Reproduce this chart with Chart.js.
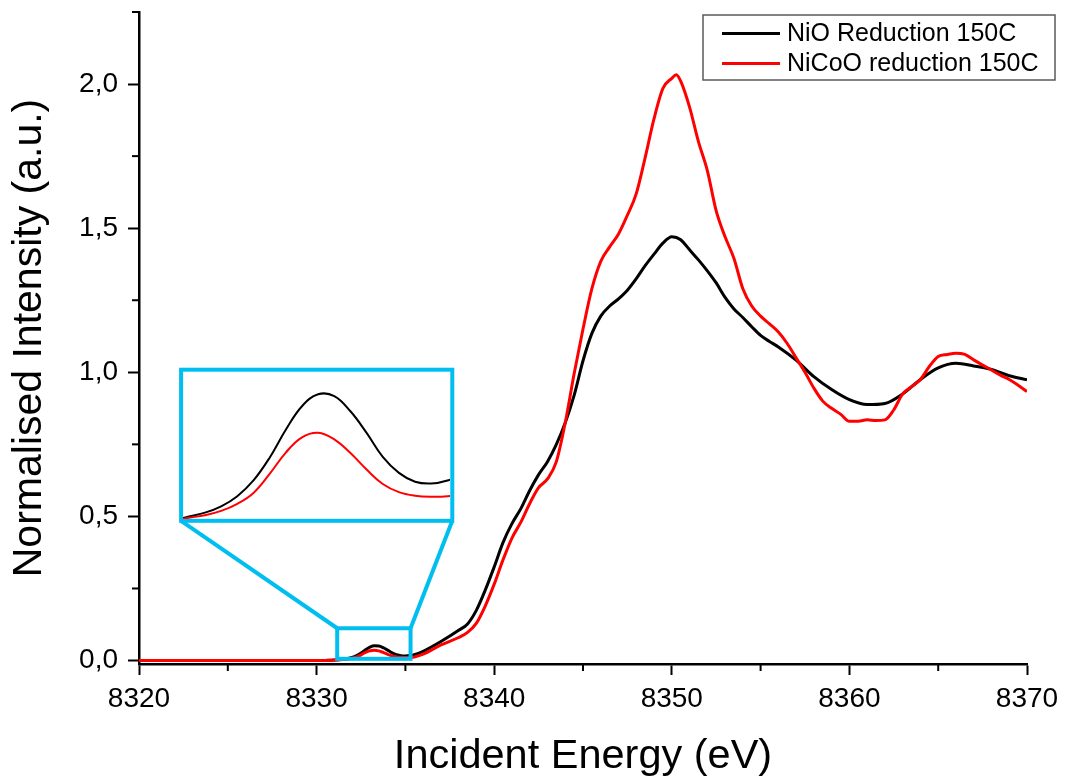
<!DOCTYPE html>
<html><head><meta charset="utf-8">
<script src="https://cdn.jsdelivr.net/npm/chart.js@4/dist/chart.umd.min.js"></script>
<style>
html,body{margin:0;padding:0;background:#fff;}
#wrap{position:relative;width:1068px;height:781px;overflow:hidden;}
#main{position:absolute;left:0;top:0;}
#insetBox{position:absolute;left:0;top:0;}
</style></head><body>
<div id="wrap"><canvas id="main" width="1068" height="781"></canvas><div id="insetBox"><canvas id="inset"></canvas></div></div>
<script>
const nioEnergy = [8320, 8322, 8324, 8326, 8328, 8330, 8330.5,
  8331, 8331.25, 8331.5, 8331.75, 8332, 8332.25, 8332.5, 8332.75, 8333, 8333.25, 8333.5, 8333.75,
  8334, 8334.25, 8334.5, 8334.75, 8335, 8335.25, 8335.5, 8336, 8337, 8338,
  8338.5, 8339, 8339.5, 8340, 8340.5, 8341, 8341.5, 8342, 8342.5, 8343, 8343.5, 8344, 8344.5,
  8345, 8345.5, 8346, 8346.5, 8347, 8347.5, 8348, 8348.5, 8349, 8349.5, 8350, 8350.5,
  8351, 8351.5, 8352, 8352.5, 8353, 8353.5, 8354, 8354.5, 8355, 8355.5, 8356,
  8357, 8358, 8359, 8360, 8361, 8362, 8363, 8364, 8365, 8366, 8367, 8368, 8369, 8370];
const nioIntensity = [0, 0, 0, 0, 0, 0, 0.0005,
  0.0015, 0.003, 0.0045, 0.007, 0.011, 0.0172, 0.0262, 0.0372, 0.0465, 0.0512, 0.0505, 0.0445,
  0.036, 0.0265, 0.0202, 0.0167, 0.016, 0.0172, 0.020, 0.032, 0.066, 0.105,
  0.127, 0.175, 0.245, 0.325, 0.41, 0.475, 0.527, 0.59, 0.645, 0.69, 0.75, 0.825, 0.92,
  1.04, 1.135, 1.195, 1.23, 1.255, 1.285, 1.325, 1.37, 1.41, 1.448, 1.47, 1.46,
  1.425, 1.39, 1.352, 1.31, 1.26, 1.22, 1.19, 1.158, 1.128, 1.107, 1.088,
  1.042, 0.985, 0.94, 0.905, 0.888, 0.892, 0.925, 0.975, 1.015, 1.031, 1.022, 1.01, 0.988, 0.974];

const nicooEnergy = [8320, 8322, 8324, 8326, 8328, 8330, 8330.5,
  8331, 8331.25, 8331.5, 8331.75, 8332, 8332.25, 8332.5, 8332.75, 8333, 8333.25, 8333.5, 8333.75,
  8334, 8334.25, 8334.5, 8334.75, 8335, 8335.25, 8335.5, 8336, 8337, 8338,
  8338.5, 8339, 8339.5, 8340, 8340.5, 8341, 8341.5, 8342, 8342.5, 8343, 8343.5, 8344, 8344.5,
  8345, 8345.5, 8346, 8346.5, 8347, 8347.5, 8348, 8348.5, 8349, 8349.5, 8350, 8350.25, 8350.5,
  8351, 8351.5, 8352, 8352.5, 8353, 8353.5, 8354, 8354.5, 8355, 8355.5, 8356, 8356.5,
  8357, 8357.5, 8358, 8358.5, 8359, 8359.5, 8360, 8360.5, 8361, 8361.5, 8362, 8362.5,
  8363, 8363.5, 8364, 8364.5, 8365, 8365.5, 8366, 8366.5, 8367, 8367.5, 8368, 8368.5, 8369, 8369.5, 8370];
const nicooIntensity = [0, 0, 0, 0, 0, 0, 0.0005,
  0.0015, 0.0025, 0.0035, 0.0052, 0.008, 0.0123, 0.0198, 0.0282, 0.0342, 0.036, 0.0334, 0.028,
  0.0215, 0.0158, 0.0126, 0.0112, 0.0108, 0.011, 0.012, 0.022, 0.054, 0.08,
  0.098, 0.13, 0.19, 0.265, 0.35, 0.425, 0.48, 0.545, 0.6, 0.63, 0.69, 0.825, 0.995,
  1.15, 1.29, 1.385, 1.435, 1.48, 1.545, 1.62, 1.745, 1.88, 1.985, 2.02, 2.032, 2.01,
  1.92, 1.80, 1.70, 1.56, 1.47, 1.395, 1.29, 1.23, 1.195, 1.168, 1.14, 1.10,
  1.05, 1.0, 0.945, 0.9, 0.875, 0.855, 0.83, 0.83, 0.835, 0.833, 0.835, 0.87,
  0.925, 0.95, 0.975, 1.02, 1.055, 1.062, 1.066, 1.062, 1.043, 1.025, 1.008, 0.99, 0.975, 0.955, 0.933];

const seriesLabels = ['NiO Reduction 150C', 'NiCoO reduction 150C'];
const seriesColors = ['#000000', '#ff0000'];
const xTickValues = [8320, 8330, 8340, 8350, 8360, 8370];
const xMinorTickValues = [8325, 8335, 8345, 8355, 8365];
const yTickValues = [0, 0.5, 1.0, 1.5, 2.0];
const yMinorTickValues = [0.25, 0.75, 1.25, 1.75, 2.25];
const xTitle = 'Incident Energy (eV)';
const yTitle = 'Normalised Intensity (a.u.)';

// zoom window (data coords) and where its magnified view sits (data coords)
const zoomWindowX = [8331.16, 8335.29];
const zoomWindowY = [0.006, 0.112];
const insetValueY = [0.002, 0.06];
const insetPlaceX = [8322.37, 8337.64];
const insetPlaceY = [0.4848, 1.009];

const FONT = '"Liberation Sans", Arial, sans-serif';
const CYAN = 'rgb(0,191,240)';
const toXY = (xs, ys) => xs.map((x, i) => ({x: x, y: ys[i]}));

function makeDatasets(width, smooth) {
  const common = {pointRadius: 0, fill: false, borderWidth: width, borderJoinStyle: 'round'};
  if (smooth) { common.tension = 0.4; } else { common.cubicInterpolationMode = 'monotone'; }
  return [
    Object.assign({label: seriesLabels[0], data: toXY(nioEnergy, nioIntensity), borderColor: seriesColors[0], order: 1}, common),
    Object.assign({label: seriesLabels[1], data: toXY(nicooEnergy, nicooIntensity), borderColor: seriesColors[1], order: 0}, common)
  ];
}

const decorPlugin = {
  id: 'decor',
  afterDatasetsDraw(chart) {
    const ctx = chart.ctx, xs = chart.scales.x, ys = chart.scales.y;
    ctx.save();
    // minor ticks
    ctx.strokeStyle = '#000'; ctx.lineWidth = 2;
    const ya = chart.chartArea.bottom, xa = chart.chartArea.left;
    xMinorTickValues.forEach(v => { const p = xs.getPixelForValue(v); ctx.beginPath(); ctx.moveTo(p, ya); ctx.lineTo(p, ya + 7); ctx.stroke(); });
    yMinorTickValues.forEach(v => { const p = ys.getPixelForValue(v); ctx.beginPath(); ctx.moveTo(xa, p); ctx.lineTo(xa - 7, p); ctx.stroke(); });
    // zoom boxes
    const sx0 = xs.getPixelForValue(zoomWindowX[0]), sx1 = xs.getPixelForValue(zoomWindowX[1]);
    const sy0 = ys.getPixelForValue(zoomWindowY[0]), sy1 = ys.getPixelForValue(zoomWindowY[1]);
    const bx0 = xs.getPixelForValue(insetPlaceX[0]), bx1 = xs.getPixelForValue(insetPlaceX[1]);
    const by0 = ys.getPixelForValue(insetPlaceY[0]), by1 = ys.getPixelForValue(insetPlaceY[1]);
    ctx.strokeStyle = CYAN; ctx.lineWidth = 4; ctx.lineJoin = 'miter';
    ctx.strokeRect(sx0, sy1, sx1 - sx0, sy0 - sy1);
    ctx.strokeRect(bx0, by1, bx1 - bx0, by0 - by1);
    ctx.beginPath(); ctx.moveTo(bx0, by0); ctx.lineTo(sx0, sy1); ctx.stroke();
    ctx.beginPath(); ctx.moveTo(bx1, by0); ctx.lineTo(sx1, sy1); ctx.stroke();
    // legend
    const lx = chart.chartArea.right - 324, ly = 15, lw = 352, lh = 65;
    ctx.strokeStyle = '#5a5a5a'; ctx.lineWidth = 1.5;
    ctx.strokeRect(lx, ly, lw, lh);
    ctx.font = '25px ' + FONT; ctx.textBaseline = 'middle'; ctx.textAlign = 'left'; ctx.fillStyle = '#000';
    chart.data.datasets.forEach((ds, i) => {
      const cy = ly + 18.5 + i * 30;
      ctx.strokeStyle = ds.borderColor; ctx.lineWidth = 3;
      ctx.beginPath(); ctx.moveTo(lx + 19, cy); ctx.lineTo(lx + 77, cy); ctx.stroke();
      ctx.fillText(ds.label, lx + 84, cy + 1);
    });
    ctx.restore();
  }
};

const mainChart = new Chart(document.getElementById('main'), {
  type: 'line',
  data: {datasets: makeDatasets(3, false)},
  options: {
    responsive: false, animation: false,
    layout: {padding: {top: 12, right: 41, left: 0, bottom: 0}},
    plugins: {legend: {display: false}, tooltip: {enabled: false}},
    scales: {
      x: {
        type: 'linear', min: 8320, max: 8370,
        afterBuildTicks: s => { s.ticks = xTickValues.map(v => ({value: v})); },
        afterFit: s => { s.height = 117; s.paddingLeft = 0; s.paddingRight = 0; },
        ticks: {callback: v => String(v), color: '#000', font: {family: FONT, size: 28}, padding: 7, maxRotation: 0, autoSkip: false},
        grid: {drawOnChartArea: false, drawTicks: true, tickLength: 11, tickWidth: 2, tickColor: '#000'},
        border: {display: true, color: '#000', width: 2.5},
        title: {display: true, text: xTitle, color: '#000', font: {family: FONT, size: 41.5}, padding: {top: 0, bottom: 0}}
      },
      y: {
        type: 'linear', min: -0.012, max: 2.25,
        afterBuildTicks: s => { s.ticks = yTickValues.map(v => ({value: v})); },
        afterFit: s => { s.width = 139; s.paddingTop = 0; s.paddingBottom = 0; },
        ticks: {callback: v => v.toFixed(1).replace('.', ','), color: '#000', font: {family: FONT, size: 28}, padding: 10, autoSkip: false},
        grid: {drawOnChartArea: false, drawTicks: true, tickLength: 11, tickWidth: 2, tickColor: '#000'},
        border: {display: true, color: '#000', width: 2.5},
        title: {display: true, text: yTitle, color: '#000', font: {family: FONT, size: 41}, padding: {top: 5, bottom: 0}}
      }
    }
  },
  plugins: [decorPlugin]
});

// magnified inset, placed over the box computed from the main chart's scales
const mx = mainChart.scales.x, my = mainChart.scales.y;
const ix0 = mx.getPixelForValue(insetPlaceX[0]), ix1 = mx.getPixelForValue(insetPlaceX[1]);
const iy0 = my.getPixelForValue(insetPlaceY[1]), iy1 = my.getPixelForValue(insetPlaceY[0]);
const box = document.getElementById('insetBox');
const ic = document.getElementById('inset');
const pad = 2;
box.style.left = (ix0 + pad) + 'px';
box.style.top = (iy0 + pad) + 'px';
ic.width = Math.round(ix1 - ix0 - 2 * pad);
ic.height = Math.round(iy1 - iy0 - 2 * pad);

new Chart(ic, {
  type: 'line',
  data: {datasets: makeDatasets(2, true).map(d => Object.assign(d, {clip: 0}))},
  options: {
    responsive: false, animation: false,
    layout: {padding: 0},
    plugins: {legend: {display: false}, tooltip: {enabled: false}},
    scales: {
      x: {type: 'linear', display: false, min: zoomWindowX[0], max: zoomWindowX[1]},
      y: {type: 'linear', display: false, min: insetValueY[0], max: insetValueY[1]}
    }
  }
});
</script>
</body></html>
